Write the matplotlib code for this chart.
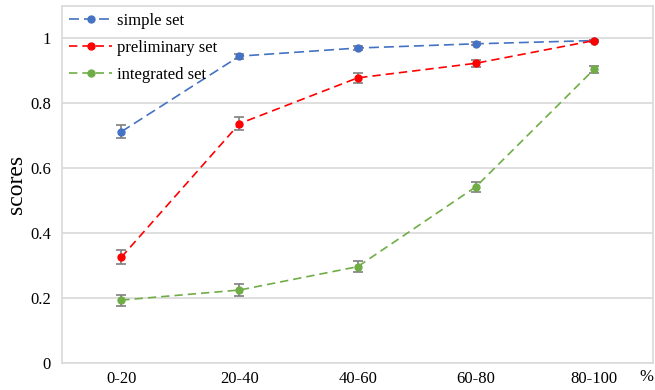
import numpy as np
import matplotlib
matplotlib.use("Agg")
import matplotlib.pyplot as plt

categories = ["0-20", "20-40", "40-60", "60-80", "80-100"]

simple_set = [0.712, 0.945, 0.970, 0.983, 0.993]
simple_err = [0.020, 0.008, 0.005, 0.005, 0.003]

preliminary_set = [0.325, 0.737, 0.878, 0.923, 0.993]
preliminary_err = [0.022, 0.020, 0.015, 0.010, 0.003]

integrated_set = [0.193, 0.224, 0.296, 0.542, 0.904]
integrated_err = [0.017, 0.018, 0.017, 0.016, 0.010]

series = [
    ("simple set", simple_set, simple_err, "#4472C4", (0, (6, 3))),
    ("preliminary set", preliminary_set, preliminary_err, "#FF0000", (0, (5, 3))),
    ("integrated set", integrated_set, integrated_err, "#70AD47", (0, (5, 3))),
]

plt.rcParams["font.family"] = ["Liberation Serif", "DejaVu Serif"]

fig, ax = plt.subplots(figsize=(6.55, 3.9), dpi=100)
fig.subplots_adjust(left=0.095, right=0.997, top=0.985, bottom=0.07)

x = np.arange(len(categories))
for label, vals, errs, color, ls in series:
    ax.errorbar(x, vals, yerr=errs, fmt="none", ecolor="#7f7f7f",
                elinewidth=1.2, capsize=3.5, capthick=1.2, zorder=4)
    ax.plot(x, vals, color=color, lw=1.2, linestyle=ls, marker="o", ms=5,
            label=label, zorder=5)

ax.set_xlim(-0.5, 4.5)
ax.set_ylim(0, 1.1)
ax.set_yticks([0, 0.2, 0.4, 0.6, 0.8, 1.0])
ax.set_yticklabels(["0", "0.2", "0.4", "0.6", "0.8", "1"])
ax.set_xticks(x)
ax.set_xticklabels(categories)
ax.tick_params(axis="both", length=0, labelsize=12, pad=8)
ax.tick_params(axis="x", pad=6)

ax.grid(axis="y", color="#d9d9d9", lw=1.2)
ax.set_axisbelow(True)
for s in ax.spines.values():
    s.set_color("#d9d9d9")
    s.set_linewidth(1.2)

ax.set_ylabel("scores", fontsize=17, labelpad=2)
ax.text(0.988, -0.018, "%", transform=ax.transAxes, fontsize=12,
        ha="center", va="top")

ax.legend(loc="upper left", frameon=False, fontsize=12,
          handlelength=2.6, labelspacing=0.68, borderaxespad=0.0,
          bbox_to_anchor=(0.0, 1.0), handletextpad=0.3)

fig.savefig("out.png", dpi=100)
